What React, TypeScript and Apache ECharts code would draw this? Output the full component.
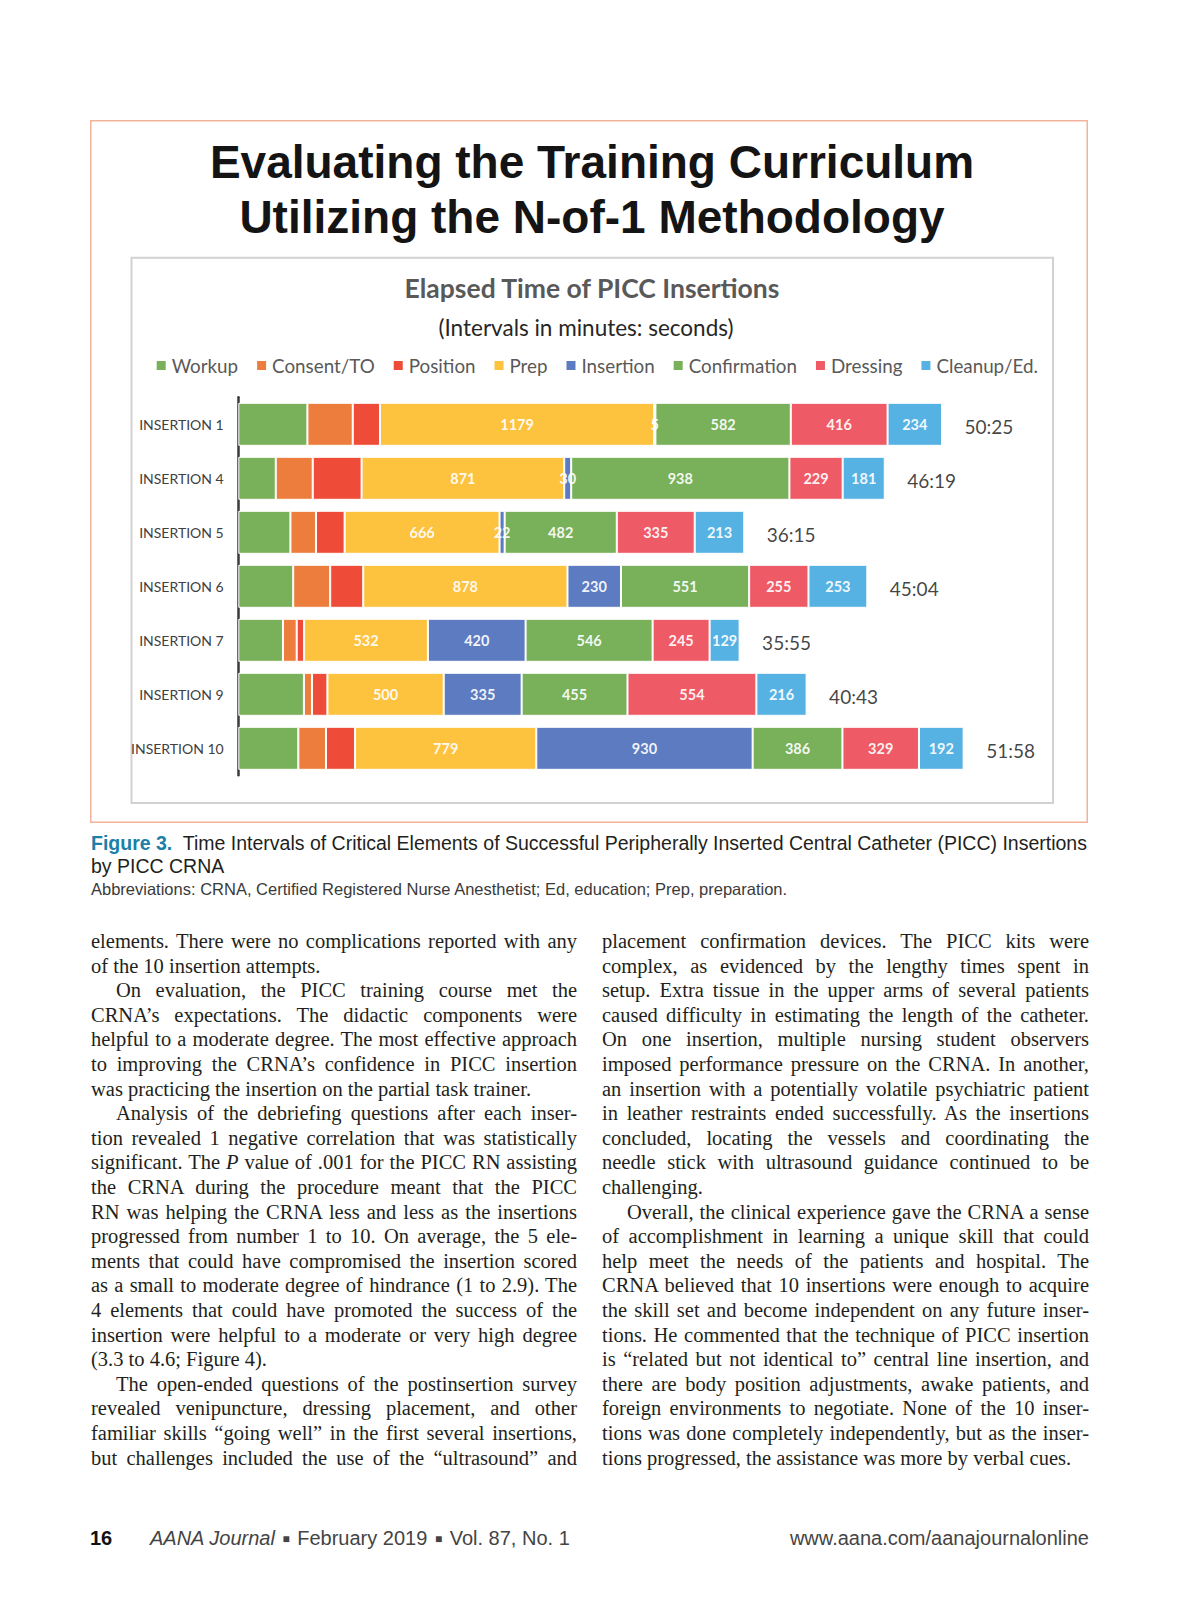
import React, { useEffect, useRef } from "react";
import * as echarts from "echarts";

// ---------- data ----------
const categories = ["INSERTION 1", "INSERTION 4", "INSERTION 5", "INSERTION 6", "INSERTION 7", "INSERTION 9", "INSERTION 10"];
const seriesNames = ["Workup", "Consent/TO", "Position", "Prep", "Insertion", "Confirmation", "Dressing", "Cleanup/Ed."];
const workup = [297, 161, 224, 236, 192, 282, 258];
const consent = [195, 159, 110, 159, 59, 35, 119];
const position = [117, 210, 123, 142, 32, 66, 125];
const prep = [1179, 871, 666, 878, 532, 500, 779];
const insertion = [5, 30, 22, 230, 420, 335, 930];
const confirmation = [582, 938, 482, 551, 546, 455, 386];
const dressing = [416, 229, 335, 255, 245, 554, 329];
const cleanup = [234, 181, 213, 253, 129, 216, 192];
const seriesValues = [workup, consent, position, prep, insertion, confirmation, dressing, cleanup];
const labeledSeries = [false, false, false, true, true, true, true, true];

const mainTitle = "Evaluating the Training Curriculum\nUtilizing the N-of-1 Methodology";
const chartTitle = "Elapsed Time of PICC Insertions";
const chartSubtitle = "(Intervals in minutes: seconds)";

const captionLabel = "Figure 3.";
const captionLine1 = "Time Intervals of Critical Elements of Successful Peripherally Inserted Central Catheter (PICC) Insertions";
const captionLine2 = "by PICC CRNA";
const abbreviations = "Abbreviations: CRNA, Certified Registered Nurse Anesthetist; Ed, education; Prep, preparation.";

// body text: "\t" = paragraph indent, trailing "|" = last line of paragraph, *x* = italic
const leftColumn = [
  "elements. There were no complications reported with any",
  "of the 10 insertion attempts.|",
  "\tOn evaluation, the PICC training course met the",
  "CRNA\u2019s expectations. The didactic components were",
  "helpful to a moderate degree. The most effective approach",
  "to improving the CRNA\u2019s confidence in PICC insertion",
  "was practicing the insertion on the partial task trainer.|",
  "\tAnalysis of the debriefing questions after each inser-",
  "tion revealed 1 negative correlation that was statistically",
  "significant. The *P* value of .001 for the PICC RN assisting",
  "the CRNA during the procedure meant that the PICC",
  "RN was helping the CRNA less and less as the insertions",
  "progressed from number 1 to 10. On average, the 5 ele-",
  "ments that could have compromised the insertion scored",
  "as a small to moderate degree of hindrance (1 to 2.9). The",
  "4 elements that could have promoted the success of the",
  "insertion were helpful to a moderate or very high degree",
  "(3.3 to 4.6; Figure 4).|",
  "\tThe open-ended questions of the postinsertion survey",
  "revealed venipuncture, dressing placement, and other",
  "familiar skills \u201cgoing well\u201d in the first several insertions,",
  "but challenges included the use of the \u201cultrasound\u201d and",
];
const rightColumn = [
  "placement confirmation devices. The PICC kits were",
  "complex, as evidenced by the lengthy times spent in",
  "setup. Extra tissue in the upper arms of several patients",
  "caused difficulty in estimating the length of the catheter.",
  "On one insertion, multiple nursing student observers",
  "imposed performance pressure on the CRNA. In another,",
  "an insertion with a potentially volatile psychiatric patient",
  "in leather restraints ended successfully. As the insertions",
  "concluded, locating the vessels and coordinating the",
  "needle stick with ultrasound guidance continued to be",
  "challenging.|",
  "\tOverall, the clinical experience gave the CRNA a sense",
  "of accomplishment in learning a unique skill that could",
  "help meet the needs of the patients and hospital. The",
  "CRNA believed that 10 insertions were enough to acquire",
  "the skill set and become independent on any future inser-",
  "tions. He commented that the technique of PICC insertion",
  "is \u201crelated but not identical to\u201d central line insertion, and",
  "there are body position adjustments, awake patients, and",
  "foreign environments to negotiate. None of the 10 inser-",
  "tions was done completely independently, but as the inser-",
  "tions progressed, the assistance was more by verbal cues.|",
];

const footerPage = "16";
const footerJournal = "AANA Journal";
const footerDate = "February 2019";
const footerVolume = "Vol. 87, No. 1";
const footerUrl = "www.aana.com/aanajournalonline";

// ---------- styles ----------
const seriesColors = ["#79B05A", "#EC7D3C", "#EE4C38", "#FDC23E", "#5C7BC0", "#79B05A", "#EE5A65", "#57B2E4"];

function mmss(sec: number) {
  const m = Math.floor(sec / 60);
  const s = sec % 60;
  return `${m}:${s < 10 ? "0" : ""}${s}`;
}

function Chart() {
  const ref = useRef<HTMLDivElement>(null);
  useEffect(() => {
    if (!ref.current) return;
    const chart = echarts.init(ref.current, null, { renderer: "svg" });
    const totals = categories.map((_, i) => seriesValues.reduce((a, s) => a + s[i], 0));
    const font = "Lato";
    const option: any = {
      animation: false,
      title: [
        {
          text: mainTitle,
          left: 502,
          top: 14.5,
          padding: 0,
          textAlign: "center",
          textStyle: { fontFamily: "'Liberation Sans', Arial, sans-serif", fontSize: 46, fontWeight: "bold", color: "#141414", lineHeight: 54.7 },
        },
        {
          text: chartTitle,
          left: 502,
          top: 152.2,
          padding: 0,
          textAlign: "center",
          textStyle: { fontFamily: font, fontSize: 26.5, fontWeight: "bold", color: "#595959", lineHeight: 32 },
        },
        {
          text: chartSubtitle,
          left: 496,
          top: 193.6,
          padding: 0,
          textAlign: "center",
          textStyle: { fontFamily: font, fontSize: 22.5, fontWeight: "normal", color: "#262626", lineHeight: 28 },
        },
      ],
      graphic: [
        { type: "rect", silent: true, shape: { x: 0.75, y: 0.75, width: 996.5, height: 701.5 }, style: { fill: "none", stroke: "#F3B39A", lineWidth: 1.5 } },
        { type: "rect", silent: true, shape: { x: 41.5, y: 137.7, width: 921.5, height: 545.3 }, style: { fill: "none", stroke: "#D2D2D2", lineWidth: 2 } },
      ],
      legend: {
        data: seriesNames,
        left: 64.7,
        top: 235.5,
        padding: 0,
        icon: "rect",
        itemWidth: 11,
        itemHeight: 11,
        itemGap: 17,
        selectedMode: false,
        textStyle: { fontFamily: font, fontSize: 18.8, color: "#595959", lineHeight: 20 },
      },
      grid: { left: 148.3, top: 277.3, width: 814.2, height: 378, containLabel: false },
      xAxis: { type: "value", min: 0, max: 3500, show: false },
      yAxis: {
        type: "category",
        data: categories,
        inverse: true,
        axisLine: { show: true, lineStyle: { color: "#3a3a3a", width: 2.5 } },
        axisTick: { show: false },
        splitLine: { show: false },
        axisLabel: { margin: 14.6, fontFamily: font, fontSize: 14, color: "#404040" },
      },
      series: [
        ...seriesValues.map((vals, k) => ({
          type: "bar",
          name: seriesNames[k],
          stack: "total",
          data: vals,
          barWidth: 43,
          silent: true,
          itemStyle: { color: seriesColors[k], borderColor: "#ffffff", borderWidth: 1 },
          label: {
            show: labeledSeries[k],
            position: "inside",
            color: "rgba(255,255,255,0.93)",
            fontFamily: font,
            fontWeight: "bold",
            fontSize: 14.5,
          },
        })),
        {
          type: "scatter",
          name: "Total",
          data: totals.map((t, i) => [t, categories[i]]),
          symbolSize: 1,
          silent: true,
          itemStyle: { color: "rgba(0,0,0,0)" },
          label: {
            show: true,
            position: "right",
            distance: 22,
            offset: [0, 2],
            formatter: (p: any) => mmss(p.value[0]),
            fontFamily: font,
            fontSize: 19,
            color: "#111111",
          },
        },
      ],
    };
    chart.setOption(option);
    return () => chart.dispose();
  }, []);
  return <div ref={ref} style={{ position: "absolute", left: 90, top: 120, width: 998, height: 703 }} />;
}

function renderInline(text: string) {
  const parts = text.split("*");
  return parts.map((p, i) => (i % 2 === 1 ? <i key={i}>{p}</i> : <React.Fragment key={i}>{p}</React.Fragment>));
}

function Column({ lines, left, width }: { lines: string[]; left: number; width: number }) {
  return (
    <div style={{ position: "absolute", left, top: 929.1, width }}>
      {lines.map((raw, i) => {
        let t = raw;
        const indent = t.startsWith("\t");
        if (indent) t = t.slice(1);
        const last = t.endsWith("|");
        if (last) t = t.slice(0, -1);
        return (
          <div
            key={i}
            style={{
              height: 24.6,
              lineHeight: "24.6px",
              textIndent: indent ? 25 : 0,
              textAlign: last ? "left" : "justify",
              textAlignLast: last ? "left" : "justify",
              whiteSpace: "nowrap",
            } as any}
          >
            {renderInline(t)}
          </div>
        );
      })}
    </div>
  );
}

const sans = "'Liberation Sans', Arial, sans-serif";

export default function App() {
  const sq = <span style={{ fontSize: "0.6em", verticalAlign: "0.15em", margin: "0 2px" }}>{"\u25A0"}</span>;
  return (
    <div style={{ position: "absolute", left: 0, top: 0, width: 1200, height: 1606, background: "#ffffff", overflow: "hidden" }}>
      <Chart />
      <div style={{ position: "absolute", left: 91, top: 831.6, width: 1010, fontFamily: sans, fontSize: 19.5, lineHeight: "23.3px", color: "#231f20", whiteSpace: "nowrap" }}>
        <div>
          <span style={{ color: "#1B7FA6", fontWeight: "bold" }}>{captionLabel}</span>
          {"\u00a0 "}
          {captionLine1}
        </div>
        <div>{captionLine2}</div>
      </div>
      <div style={{ position: "absolute", left: 91, top: 879.6, fontFamily: sans, fontSize: 16.5, lineHeight: "18px", color: "#3a3a3a", whiteSpace: "nowrap" }}>
        {abbreviations}
      </div>
      <div style={{ fontFamily: "'Liberation Serif', 'Times New Roman', serif", fontSize: 20.5, color: "#231f20" }}>
        <Column lines={leftColumn} left={91} width={486} />
        <Column lines={rightColumn} left={602} width={487} />
      </div>
      <div style={{ position: "absolute", left: 90, top: 1527, fontFamily: sans, fontSize: 20, lineHeight: "22px", color: "#111", fontWeight: "bold" }}>
        {footerPage}
      </div>
      <div style={{ position: "absolute", left: 150, top: 1527, fontFamily: sans, fontSize: 20, lineHeight: "22px", color: "#444", whiteSpace: "nowrap" }}>
        <i>{footerJournal}</i> {sq} {footerDate} {sq} {footerVolume}
      </div>
      <div style={{ position: "absolute", right: 1200 - 1089, top: 1527, fontFamily: sans, fontSize: 20, lineHeight: "22px", color: "#444", whiteSpace: "nowrap", textAlign: "right" }}>
        {footerUrl}
      </div>
    </div>
  );
}
